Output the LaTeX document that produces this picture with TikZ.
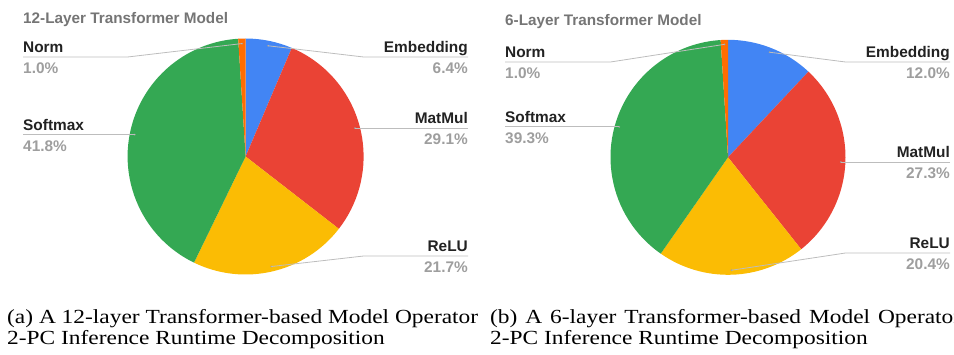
\documentclass[tikz,border=0pt]{standalone}
\usepackage{fontspec}
\setmainfont{Liberation Serif}
\setsansfont{Liberation Sans}
\newfontfamily\capfont[FakeStretch=1.17]{Liberation Serif}
\usepackage{tikz}
\usetikzlibrary{calc}

\definecolor{gEmb}{HTML}{4285F4}
\definecolor{gMat}{HTML}{EA4335}
\definecolor{gRelu}{HTML}{FBBC04}
\definecolor{gSoft}{HTML}{34A853}
\definecolor{gNorm}{HTML}{FF6D01}
\definecolor{lblText}{HTML}{222222}
\definecolor{pctText}{HTML}{9E9E9E}
\definecolor{ttlText}{HTML}{757575}
\definecolor{leadGray}{HTML}{BDBDBD}

\begin{document}
\begin{tikzpicture}[
  x=1pt, y=1pt,
  title/.style={font=\sffamily\bfseries\fontsize{15.3}{18}\selectfont,
    text=ttlText, anchor=base west, inner sep=0pt},
  lbl/.style={font=\sffamily\bfseries\fontsize{15.4}{18}\selectfont,
    text=lblText, inner sep=0pt},
  pct/.style={lbl, text=pctText},
  lead/.style={draw=leadGray, line width=0.8pt},
  ldot/.style={circle, fill=pctText, inner sep=0pt, minimum size=2pt},
  capt/.style={font=\capfont\fontsize{20}{24}\selectfont,
    anchor=base west, inner sep=0pt},
]
  \clip (0,0) rectangle (954,354);

  % ---------------- (a) 12-layer pie ----------------
  \coordinate (cL) at (245.6,197.5);
  \node[title] (ttlL) at (23,330) {12-Layer Transformer Model};

  \fill[gEmb]  (cL) -- ++(90:118)     arc[start angle=90,     end angle=66.96,   radius=118] -- cycle;
  \fill[gMat]  (cL) -- ++(66.96:118)  arc[start angle=66.96,  end angle=-37.8,   radius=118] -- cycle;
  \fill[gRelu] (cL) -- ++(-37.8:118)  arc[start angle=-37.8,  end angle=-115.92, radius=118] -- cycle;
  \fill[gSoft] (cL) -- ++(-115.92:118) arc[start angle=-115.92, end angle=-266.4, radius=118] -- cycle;
  \fill[gNorm] (cL) -- ++(-266.4:118) arc[start angle=-266.4, end angle=-270,    radius=118] -- cycle;

  % leader dots
  \node[ldot] (dNormL) at ($(cL)+(91.8:113)$) {};
  \node[ldot] (dEmbL)  at ($(cL)+(78.48:113)$) {};
  \node[ldot] (dMatL)  at ($(cL)+(14.58:113)$) {};
  \node[ldot] (dReluL) at ($(cL)+(-76.86:113)$) {};
  \node[ldot] (dSoftL) at ($(cL)+(168.84:113)$) {};

  % leader line ends
  \coordinate (lEdgeL) at (23,0);
  \coordinate (rEdgeL) at (468,0);
  \coordinate (lNormL) at (23,297);
  \coordinate (kNormL) at (127.6,297);
  \coordinate (lEmbL)  at (468,297);
  \coordinate (kEmbL)  at (363.6,297);
  \coordinate (lMatL)  at (dMatL -| rEdgeL);
  \coordinate (lSoftL) at (dSoftL -| lEdgeL);
  \coordinate (lReluL) at (468,98);
  \coordinate (kReluL) at (363.6,98);

  \draw[lead] (lNormL) -- (kNormL) -- (dNormL.center);
  \draw[lead] (lEmbL) -- (kEmbL) -- (dEmbL.center);
  \draw[lead] (lMatL) -- (dMatL.center);
  \draw[lead] (lSoftL) -- (dSoftL.center);
  \draw[lead] (lReluL) -- (kReluL) -- (dReluL.center);

  % labels
  \node[lbl, anchor=base west] (nNormL) at ([yshift=4.5pt]lNormL) {Norm};
  \node[pct, anchor=base west] (pNormL) at ([yshift=-16.5pt]lNormL) {1.0\%};
  \node[lbl, anchor=base east] (nEmbL) at ([yshift=4.5pt]lEmbL) {Embedding};
  \node[pct, anchor=base east] (pEmbL) at ([yshift=-16.5pt]lEmbL) {6.4\%};
  \node[lbl, anchor=base east] (nMatL) at ([yshift=4.5pt]lMatL) {MatMul};
  \node[pct, anchor=base east] (pMatL) at ([yshift=-16.5pt]lMatL) {29.1\%};
  \node[lbl, anchor=base west] (nSoftL) at ([yshift=4.5pt]lSoftL) {Softmax};
  \node[pct, anchor=base west] (pSoftL) at ([yshift=-16.5pt]lSoftL) {41.8\%};
  \node[lbl, anchor=base east] (nReluL) at ([yshift=4.5pt]lReluL) {ReLU};
  \node[pct, anchor=base east] (pReluL) at ([yshift=-16.5pt]lReluL) {21.7\%};

  % ---------------- (b) 6-layer pie ----------------
  \coordinate (cR) at (728,196.7);
  \node[title] (ttlR) at (505,328) {6-Layer Transformer Model};

  \fill[gEmb]  (cR) -- ++(90:117.5)     arc[start angle=90,     end angle=46.8,    radius=117.5] -- cycle;
  \fill[gMat]  (cR) -- ++(46.8:117.5)   arc[start angle=46.8,   end angle=-51.48,  radius=117.5] -- cycle;
  \fill[gRelu] (cR) -- ++(-51.48:117.5) arc[start angle=-51.48, end angle=-124.92, radius=117.5] -- cycle;
  \fill[gSoft] (cR) -- ++(-124.92:117.5) arc[start angle=-124.92, end angle=-266.4, radius=117.5] -- cycle;
  \fill[gNorm] (cR) -- ++(-266.4:117.5) arc[start angle=-266.4, end angle=-270,    radius=117.5] -- cycle;

  % leader dots
  \node[ldot] (dNormR) at ($(cR)+(91.8:113)$) {};
  \node[ldot] (dEmbR)  at ($(cR)+(68.4:113)$) {};
  \node[ldot] (dMatR)  at ($(cR)+(-2.34:113)$) {};
  \node[ldot] (dReluR) at ($(cR)+(-88.2:113)$) {};
  \node[ldot] (dSoftR) at ($(cR)+(164.34:113)$) {};

  % leader line ends
  \coordinate (lEdgeR) at (505,0);
  \coordinate (rEdgeR) at (950,0);
  \coordinate (lNormR) at (505,292);
  \coordinate (kNormR) at (610.5,292);
  \coordinate (lEmbR)  at (950,292);
  \coordinate (kEmbR)  at (845.5,292);
  \coordinate (lMatR)  at (dMatR -| rEdgeR);
  \coordinate (lSoftR) at (dSoftR -| lEdgeR);
  \coordinate (lReluR) at (950,101);
  \coordinate (kReluR) at (845.5,101);

  \draw[lead] (lNormR) -- (kNormR) -- (dNormR.center);
  \draw[lead] (lEmbR) -- (kEmbR) -- (dEmbR.center);
  \draw[lead] (lMatR) -- (dMatR.center);
  \draw[lead] (lSoftR) -- (dSoftR.center);
  \draw[lead] (lReluR) -- (kReluR) -- (dReluR.center);

  % labels
  \node[lbl, anchor=base west] (nNormR) at ([yshift=4.5pt]lNormR) {Norm};
  \node[pct, anchor=base west] (pNormR) at ([yshift=-16.5pt]lNormR) {1.0\%};
  \node[lbl, anchor=base east] (nEmbR) at ([yshift=4.5pt]lEmbR) {Embedding};
  \node[pct, anchor=base east] (pEmbR) at ([yshift=-16.5pt]lEmbR) {12.0\%};
  \node[lbl, anchor=base east] (nMatR) at ([yshift=4.5pt]lMatR) {MatMul};
  \node[pct, anchor=base east] (pMatR) at ([yshift=-16.5pt]lMatR) {27.3\%};
  \node[lbl, anchor=base west] (nSoftR) at ([yshift=4.5pt]lSoftR) {Softmax};
  \node[pct, anchor=base west] (pSoftR) at ([yshift=-16.5pt]lSoftR) {39.3\%};
  \node[lbl, anchor=base east] (nReluR) at ([yshift=4.5pt]lReluR) {ReLU};
  \node[pct, anchor=base east] (pReluR) at ([yshift=-16.5pt]lReluR) {20.4\%};

  % captions (first lines justified to the subfigure width)
  \node[capt] (capA1) at (7,31) {\makebox[471pt][s]{(a) A 12-layer Transformer-based Model Operator}};
  \node[capt] (capA2) at (7,10) {2-PC Inference Runtime Decomposition};
  \node[capt] (capB1) at (490,31) {\makebox[471pt][s]{(b) A 6-layer Transformer-based Model Operator}};
  \node[capt] (capB2) at (490,10) {2-PC Inference Runtime Decomposition};
\end{tikzpicture}
\end{document}
